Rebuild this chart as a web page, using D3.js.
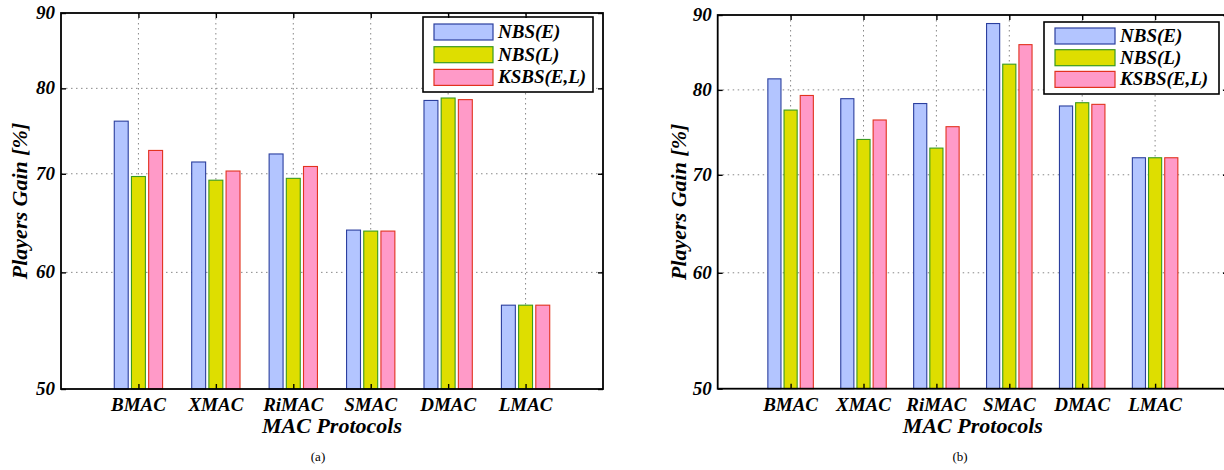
<!DOCTYPE html>
<html>
<head>
<meta charset="utf-8">
<script src="https://cdn.jsdelivr.net/npm/d3@7"></script>
<style>
  body { margin: 0; background: #fff; }
  svg { display: block; }
  text { font-family: "Liberation Serif", "Times New Roman", serif; }
</style>
</head>
<body>
<svg id="chart" width="1224" height="470"></svg>
<script>
// categories and series
const protocols = ['BMAC', 'XMAC', 'RiMAC', 'SMAC', 'DMAC', 'LMAC'];
const seriesNames = ['NBS(E)', 'NBS(L)', 'KSBS(E,L)'];
const yTicks = [50, 60, 70, 80, 90];

// panel (a) values
const gainA_nbsE = [76.0, 71.3, 72.2, 64.1, 78.5, 57.0];
const gainA_nbsL = [69.7, 69.3, 69.5, 64.0, 78.8, 57.0];
const gainA_ksbs = [72.6, 70.3, 70.8, 64.0, 78.6, 57.0];

// panel (b) values
const gainB_nbsE = [81.4, 78.9, 78.3, 88.8, 78.0, 71.9];
const gainB_nbsL = [77.5, 74.0, 73.0, 83.3, 78.4, 71.9];
const gainB_ksbs = [79.3, 76.3, 75.5, 85.9, 78.2, 71.9];

const fills = ['#b3c5ff', '#dede00', '#ff9ac8'];
const strokes = ['#2b3f9e', '#3a9a1e', '#e2321e'];

const svg = d3.select('#chart');

function drawPanel(p) {
    const g = svg.append('g');
    const x = d3.scaleLinear().domain([0, protocols.length + 1]).range([p.left, p.right]);
    const y = d3.scaleLog().domain([50, 90]).range([p.bottom, p.top]);
    const bw = x(0.18) - x(0);
    const offs = [-0.222, 0, 0.222];

    // grid
    g.selectAll('.hgrid').data(yTicks.slice(1, -1)).enter().append('line')
        .attr('x1', p.left).attr('x2', p.right)
        .attr('y1', d => y(d)).attr('y2', d => y(d))
        .attr('stroke', '#888').attr('stroke-width', 1).attr('stroke-dasharray', '1.5,3.5');
    g.selectAll('.vgrid').data(protocols).enter().append('line')
        .attr('x1', (d, i) => x(i + 1)).attr('x2', (d, i) => x(i + 1))
        .attr('y1', p.top).attr('y2', p.bottom)
        .attr('stroke', '#888').attr('stroke-width', 1).attr('stroke-dasharray', '1.5,3.5');

    // bars
    p.series.forEach((vals, j) => {
        g.selectAll('.bar' + j).data(vals).enter().append('rect')
            .attr('x', (d, i) => x(i + 1 + offs[j]) - bw / 2)
            .attr('y', d => y(d))
            .attr('width', bw)
            .attr('height', d => p.bottom - y(d))
            .attr('fill', fills[j])
            .attr('stroke', strokes[j])
            .attr('stroke-width', 1.1);
    });

    // legend
    const lg = g.append('g');
    lg.append('rect')
        .attr('x', p.legend.x).attr('y', p.legend.y)
        .attr('width', p.legend.w).attr('height', p.legend.h)
        .attr('fill', '#fff').attr('stroke', '#000').attr('stroke-width', 1.6);
    seriesNames.forEach((name, j) => {
        const cy = p.legend.y + p.legend.first + j * p.legend.step;
        lg.append('rect')
            .attr('x', p.legend.x + 11).attr('y', cy - 8)
            .attr('width', p.legend.sw).attr('height', 16)
            .attr('fill', fills[j]).attr('stroke', strokes[j]).attr('stroke-width', 1.2);
        lg.append('text')
            .attr('x', p.legend.x + p.legend.sw + 16).attr('y', cy + 6)
            .attr('font-size', 19).attr('font-weight', 'bold').attr('font-style', 'italic')
            .text(name);
    });

    // frame and ticks
    const xAxisB = d3.axisBottom(x).tickValues(d3.range(1, protocols.length + 1))
        .tickSize(-5).tickFormat('');
    g.append('g').attr('transform', `translate(0,${p.bottom})`).call(xAxisB)
        .call(a => a.select('.domain').remove());
    const xAxisT = d3.axisTop(x).tickValues(d3.range(1, protocols.length + 1))
        .tickSize(-5).tickFormat('');
    g.append('g').attr('transform', `translate(0,${p.top})`).call(xAxisT)
        .call(a => a.select('.domain').remove());
    const yAxisL = d3.axisLeft(y).tickValues(yTicks).tickSize(-5).tickFormat('');
    g.append('g').attr('transform', `translate(${p.left},0)`).call(yAxisL)
        .call(a => a.select('.domain').remove());
    const yAxisR = d3.axisRight(y).tickValues(yTicks).tickSize(-5).tickFormat('');
    g.append('g').attr('transform', `translate(${p.right},0)`).call(yAxisR)
        .call(a => a.select('.domain').remove());
    g.selectAll('.tick line').attr('stroke', '#000').attr('stroke-width', 1.4);

    g.append('rect')
        .attr('x', p.left).attr('y', p.top)
        .attr('width', p.right - p.left).attr('height', p.bottom - p.top)
        .attr('fill', 'none').attr('stroke', '#000').attr('stroke-width', 1.8);

    // tick labels
    g.selectAll('.ylab').data(yTicks).enter().append('text')
        .attr('x', p.left - 6).attr('y', d => y(d) + 6)
        .attr('text-anchor', 'end')
        .attr('font-size', 19).attr('font-weight', 'bold').attr('font-style', 'italic')
        .text(d => d);
    g.selectAll('.xlab').data(protocols).enter().append('text')
        .attr('x', (d, i) => x(i + 1)).attr('y', p.bottom + 22)
        .attr('text-anchor', 'middle')
        .attr('font-size', 19).attr('font-weight', 'bold').attr('font-style', 'italic')
        .text(d => d);

    // axis titles
    g.append('text')
        .attr('x', (p.left + x(7)) / 2).attr('y', p.bottom + 44)
        .attr('text-anchor', 'middle')
        .attr('font-size', 22).attr('font-weight', 'bold').attr('font-style', 'italic')
        .text('MAC Protocols');
    g.append('text')
        .attr('transform', `translate(${p.ylabX},${(p.top + p.bottom) / 2}) rotate(-90)`)
        .attr('text-anchor', 'middle')
        .attr('font-size', 22).attr('font-weight', 'bold').attr('font-style', 'italic')
        .text('Players Gain [%]');

    // caption
    g.append('text')
        .attr('x', p.capX).attr('y', 461)
        .attr('text-anchor', 'middle')
        .attr('font-size', 13)
        .text(p.caption);
}

drawPanel({
    left: 61, right: 603, top: 13, bottom: 389,
    series: [gainA_nbsE, gainA_nbsL, gainA_ksbs],
    legend: { x: 423, y: 17, w: 170, h: 75, first: 15, step: 22.7, sw: 59 },
    ylabX: 27, capX: 318, caption: '(a)'
});

drawPanel({
    left: 717.7, right: 1228, top: 15, bottom: 388.7,
    series: [gainB_nbsE, gainB_nbsL, gainB_ksbs],
    legend: { x: 1044, y: 22, w: 175, h: 72, first: 14, step: 21.7, sw: 60 },
    ylabX: 686, capX: 960, caption: '(b)'
});
</script>
</body>
</html>
